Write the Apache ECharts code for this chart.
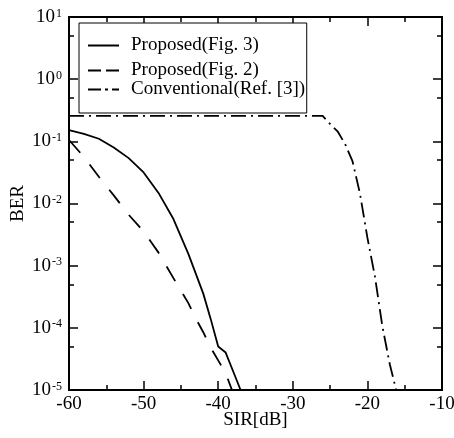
<!DOCTYPE html>
<html>
<head>
<meta charset="utf-8">
<script src="https://cdn.jsdelivr.net/npm/echarts@6/dist/echarts.min.js"></script>
<style>
  html, body { margin: 0; padding: 0; background: #fff; }
  #chart { width: 454px; height: 438px; }
</style>
</head>
<body>
<div id="chart"></div>
<script>
// ---- data ----
const seriesNames = ['Proposed(Fig. 3)', 'Proposed(Fig. 2)', 'Conventional(Ref. [3])'];

const sirFig3 = [-60, -58, -56, -54, -52, -50, -48, -46, -44, -42, -41, -40, -39, -38, -37];
const berFig3 = [0.151, 0.132, 0.110, 0.0794, 0.0537, 0.0316, 0.0148, 0.00562, 0.00155, 3.55e-4, 1.38e-4, 5.0e-5, 4.0e-5, 2.0e-5, 1.0e-5];

const sirFig2 = [-60, -58, -56, -54, -52, -50, -48, -46, -44, -43, -42, -41, -40, -39, -38];
const berFig2 = [0.105, 0.0562, 0.0269, 0.0135, 0.0066, 0.00355, 0.00162, 6.3e-4, 2.5e-4, 1.41e-4, 8.5e-5, 4.8e-5, 3.0e-5, 1.86e-5, 8.9e-6];

const sirConv = [-60, -50, -40, -30, -26, -25, -24, -23, -22, -21, -20, -19, -18, -17, -16];
const berConv = [0.256, 0.256, 0.256, 0.256, 0.256, 0.19, 0.145, 0.091, 0.048, 0.0145, 0.00282, 6.8e-4, 1.07e-4, 2.6e-5, 8.5e-6];

const berTicks = [1e-5, 1e-4, 1e-3, 1e-2, 1e-1, 1, 10];
const berTickExp = ['-5', '-4', '-3', '-2', '-1', '0', '1'];
const berMinorTicks = [5e-5, 5e-4, 5e-3, 5e-2, 0.5, 5];

const sirMin = -60, sirMax = -10, sirStep = 10;

// ---- chart ----
const FONT = 'Liberation Serif';
const chart = echarts.init(document.getElementById('chart'), null, { renderer: 'canvas' });

function pairs(xs, ys) { return xs.map((x, i) => [x, ys[i]]); }

const axisLineStyle = { color: '#000', width: 2 };
const tickLine = { color: '#000', width: 1.5 };

function xAxisDef(pos, labels) {
  return {
    type: 'value', position: pos, min: sirMin, max: sirMax, interval: sirStep,
    axisLine: { show: true, onZero: false, lineStyle: axisLineStyle },
    axisTick: { show: true, inside: true, length: 9, lineStyle: tickLine },
    minorTick: { show: true, splitNumber: 2, length: 5, lineStyle: tickLine },
    splitLine: { show: false },
    axisLabel: labels ? { show: true, margin: 5, color: '#000', fontFamily: FONT, fontSize: 19, hideOverlap: false } : { show: false },
    name: labels ? 'SIR[dB]' : '',
    nameLocation: 'middle', nameGap: 21, nameMoveOverlap: false,
    nameTextStyle: { color: '#000', fontFamily: FONT, fontSize: 19 }
  };
}

function yAxisDef(pos, ticks, len, labels) {
  return {
    type: 'log', logBase: 10, position: pos, min: 1e-5, max: 10,
    axisLine: { show: true, onZero: false, lineStyle: axisLineStyle },
    axisTick: { show: true, inside: true, length: len, customValues: ticks, lineStyle: tickLine },
    minorTick: { show: false },
    splitLine: { show: false },
    axisLabel: labels ? {
      show: true, margin: 7, customValues: berTicks,
      formatter: function (v) {
        let idx = 0, best = Infinity;
        berTicks.forEach((t, i) => { const d = Math.abs(Math.log10(t) - Math.log10(v)); if (d < best) { best = d; idx = i; } });
        return '{b|10}{s|' + berTickExp[idx] + '}';
      },
      rich: {
        b: { fontFamily: FONT, fontSize: 19, color: '#000' },
        s: { fontFamily: FONT, fontSize: 12, color: '#000', verticalAlign: 'top', padding: [0, 0, 5, 1] }
      }
    } : { show: false },
    name: labels ? 'BER' : '',
    nameLocation: 'middle', nameGap: 41, nameRotate: 90, nameMoveOverlap: false,
    nameTextStyle: { color: '#000', fontFamily: FONT, fontSize: 19 }
  };
}

const legendText = { color: '#000', fontFamily: FONT, fontSize: 19, padding: [0, 0, 0, 7] };
const legendSymbolHidden = { color: 'rgba(0,0,0,0)', borderColor: 'rgba(0,0,0,0)', borderWidth: 0, opacity: 0 };

const option = {
  backgroundColor: '#fff',
  animation: false,
  grid: { left: 69, right: 12, top: 17, bottom: 48, containLabel: false, outerBoundsMode: 'none' },
  xAxis: [xAxisDef('bottom', true), xAxisDef('top', false)],
  yAxis: [
    yAxisDef('left', berTicks, 9, true),
    yAxisDef('right', berTicks, 9, false),
    yAxisDef('left', berMinorTicks, 5, false),
    yAxisDef('right', berMinorTicks, 5, false)
  ],
  legend: [
    {
      data: [seriesNames[0]], left: 79, top: 23, orient: 'vertical',
      itemWidth: 31, itemHeight: 14, padding: [13, 48, 58, 8],
      borderColor: '#000', borderWidth: 1, backgroundColor: '#fff',
      textStyle: legendText, itemStyle: legendSymbolHidden,
      lineStyle: { width: 2, type: 'solid' }
    },
    {
      data: [seriesNames[1]], left: 87, top: 61, orient: 'vertical',
      itemWidth: 31, itemHeight: 14, padding: 0,
      textStyle: legendText, itemStyle: legendSymbolHidden,
      lineStyle: { width: 2, type: [13, 5] }
    },
    {
      data: [seriesNames[2]], left: 87, top: 80, orient: 'vertical',
      itemWidth: 31, itemHeight: 14, padding: 0,
      textStyle: legendText, itemStyle: legendSymbolHidden,
      lineStyle: { width: 2, type: [13, 4, 3, 4] }
    }
  ],
  series: [
    {
      name: seriesNames[0], type: 'line', xAxisIndex: 0, yAxisIndex: 0,
      data: pairs(sirFig3, berFig3), symbol: 'none', showSymbol: false, clip: true,
      lineStyle: { color: '#000', width: 1.8, type: 'solid' }, itemStyle: { color: '#000' }
    },
    {
      name: seriesNames[1], type: 'line', xAxisIndex: 0, yAxisIndex: 0,
      data: pairs(sirFig2, berFig2), symbol: 'none', showSymbol: false, clip: true,
      lineStyle: { color: '#000', width: 1.8, type: [17, 15] }, itemStyle: { color: '#000' }
    },
    {
      name: seriesNames[2], type: 'line', xAxisIndex: 0, yAxisIndex: 0,
      data: pairs(sirConv, berConv), symbol: 'none', showSymbol: false, clip: true,
      lineStyle: { color: '#000', width: 1.8, type: [15, 5, 2, 5] }, itemStyle: { color: '#000' }
    }
  ]
};
chart.setOption(option);
</script>
</body>
</html>
